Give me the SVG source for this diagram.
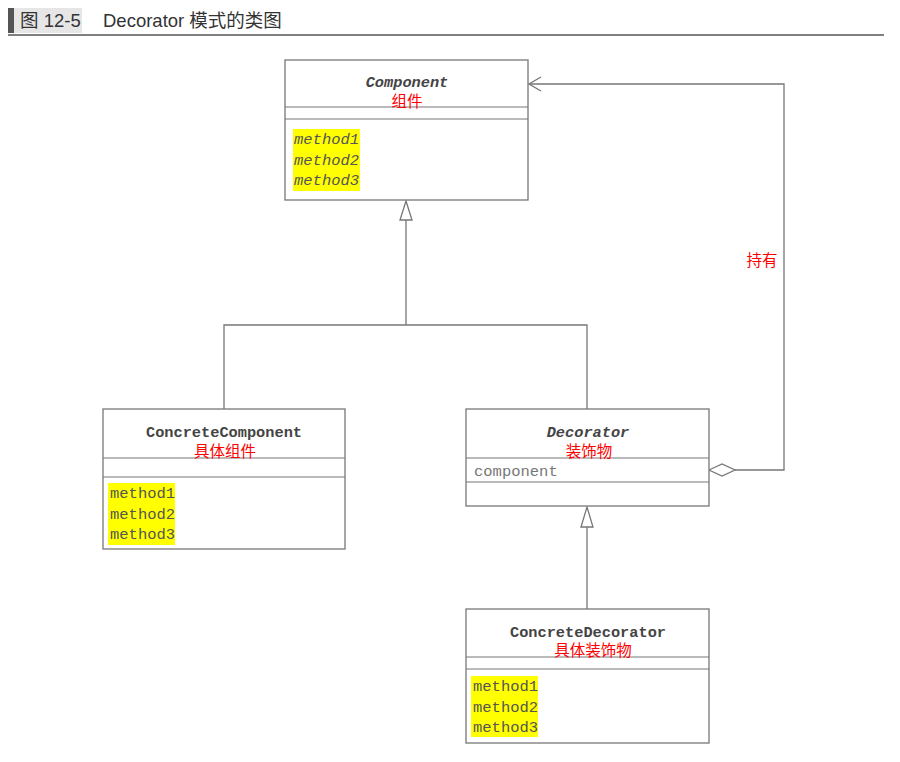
<svg xmlns="http://www.w3.org/2000/svg" width="900" height="762" viewBox="0 0 900 762">
<defs>
<style>
.box{fill:#fff;stroke:#777;stroke-width:1.3}
.div{stroke:#777;stroke-width:1.2}
.cls{font-family:"Liberation Mono",monospace;font-weight:bold;font-size:15.3px;fill:#444;text-anchor:middle}
.it{font-style:italic}
.cn{font-family:"Liberation Sans","Noto Sans CJK SC",sans-serif;font-size:15.5px;fill:#ff0000;text-anchor:middle}
.m{font-family:"Liberation Mono",monospace;font-size:15.5px;fill:#555}
.hl{fill:#ffff00}
.ln{fill:none;stroke:#777;stroke-width:1.3}
.tt{font-family:"Liberation Sans","Noto Sans CJK SC",sans-serif;font-size:18.5px;fill:#333}
</style>
</defs>
<rect width="900" height="762" fill="#fff"/>
<g id="title">
<rect x="8" y="8" width="74" height="25" fill="#e6e6e6"/>
<rect x="8" y="8" width="6" height="25" fill="#555"/>
<line x1="8" y1="35" x2="884" y2="35" stroke="#555" stroke-width="1.5"/>
<text x="20" y="27" class="tt">图 12-5</text>
<text x="103" y="27" class="tt">Decorator 模式的类图</text>
</g>
<g id="connectors">
<polyline class="ln" points="406,220 406,325"/>
<polyline class="ln" points="224,409 224,325 587,325 587,409"/>
<polygon points="406,201 400,220 412,220" fill="#fff" stroke="#777" stroke-width="1.3"/>
<polyline class="ln" points="587,527 587,609"/>
<polygon points="587,507 581,527 593,527" fill="#fff" stroke="#777" stroke-width="1.3"/>
<polyline class="ln" points="735,470 784,470 784,84 529,84"/>
<polyline class="ln" points="541,77 529,84 541,91"/>
<polygon points="709,470 722,464 735,470 722,476" fill="#fff" stroke="#777" stroke-width="1.3"/>
<text x="762" y="266" class="cn">持有</text>
</g>
<g id="Component">
<rect class="box" x="285" y="60" width="243" height="140"/>
<line class="div" x1="285" y1="107" x2="528" y2="107"/>
<line class="div" x1="285" y1="119" x2="528" y2="119"/>
<text x="407" y="87" class="cls it">Component</text>
<text x="407" y="107" class="cn">组件</text>
<rect class="hl" x="293" y="129" width="67" height="62"/>
<text x="294" y="144" class="m it">method1</text>
<text x="294" y="165" class="m it">method2</text>
<text x="294" y="185" class="m it">method3</text>
</g>
<g id="ConcreteComponent">
<rect class="box" x="103" y="409" width="242" height="140"/>
<line class="div" x1="103" y1="458" x2="345" y2="458"/>
<line class="div" x1="103" y1="477" x2="345" y2="477"/>
<text x="224" y="437" class="cls">ConcreteComponent</text>
<text x="225" y="457" class="cn">具体组件</text>
<rect class="hl" x="108" y="483" width="67" height="62"/>
<text x="110" y="498" class="m">method1</text>
<text x="110" y="519" class="m">method2</text>
<text x="110" y="539" class="m">method3</text>
</g>
<g id="Decorator">
<rect class="box" x="466" y="409" width="243" height="97"/>
<line class="div" x1="466" y1="458" x2="709" y2="458"/>
<line class="div" x1="466" y1="482" x2="709" y2="482"/>
<text x="588" y="437" class="cls it">Decorator</text>
<text x="589" y="457" class="cn">装饰物</text>
<text x="474" y="476" class="m" style="fill:#777">component</text>
</g>
<g id="ConcreteDecorator">
<rect class="box" x="466" y="609" width="243" height="134"/>
<line class="div" x1="466" y1="657" x2="709" y2="657"/>
<line class="div" x1="466" y1="669" x2="709" y2="669"/>
<text x="588" y="637" class="cls">ConcreteDecorator</text>
<text x="593" y="656" class="cn">具体装饰物</text>
<rect class="hl" x="471" y="676" width="67" height="61"/>
<text x="473" y="691" class="m">method1</text>
<text x="473" y="712" class="m">method2</text>
<text x="473" y="732" class="m">method3</text>
</g>
</svg>
